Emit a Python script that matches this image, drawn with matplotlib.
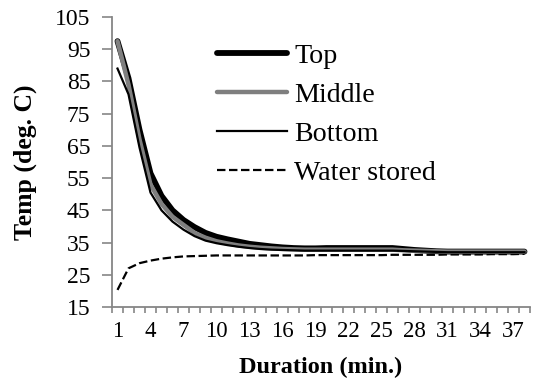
import matplotlib
matplotlib.use("Agg")
import matplotlib.pyplot as plt
import numpy as np

minutes = list(range(1, 39))
top = [97.5, 86, 70, 56.5, 49.5, 45, 42, 39.8, 38.0, 36.8, 36.0, 35.3, 34.6, 34.2, 33.8, 33.5,
       33.3, 33.2, 33.2, 33.3, 33.3, 33.3, 33.3, 33.3, 33.3, 33.3, 33.0, 32.7, 32.5, 32.3,
       32.2, 32.2, 32.2, 32.2, 32.2, 32.2, 32.2, 32.2]
middle = [97.5, 84, 67, 53, 47, 43, 40.5, 38.0, 36.5, 35.4, 34.7, 34.1, 33.7, 33.4, 33.2, 33.0,
          32.9, 32.8, 32.8, 32.8, 32.8, 32.8, 32.8, 32.8, 32.8, 32.8, 32.6, 32.5, 32.4, 32.3,
          32.2, 32.2, 32.2, 32.2, 32.2, 32.2, 32.2, 32.2]
bottom = [89, 81, 64.5, 50.5, 45, 41.5, 39.0, 37.0, 35.6, 34.8, 34.2, 33.7, 33.3, 33.0, 32.8, 32.7,
          32.6, 32.5, 32.5, 32.5, 32.5, 32.5, 32.5, 32.5, 32.5, 32.5, 32.4, 32.3, 32.2, 32.1,
          32.0, 32.0, 32.0, 32.0, 32.0, 32.0, 32.0, 32.0]
water = [20.3, 27.0, 28.6, 29.4, 30.0, 30.4, 30.7, 30.8, 30.9, 31.0, 31.0, 31.0, 31.0, 31.0, 31.0, 31.0,
         31.0, 31.0, 31.1, 31.1, 31.1, 31.1, 31.1, 31.1, 31.1, 31.2, 31.2, 31.2, 31.2, 31.2,
         31.3, 31.3, 31.3, 31.3, 31.4, 31.4, 31.4, 31.5]
series_names = ["Top", "Middle", "Bottom", "Water stored"]
yticks = list(range(15, 106, 10))
xtick_labels = list(range(1, 38, 3))

plt.rcParams['font.family'] = 'serif'
plt.rcParams['font.serif'] = ['Liberation Serif', 'DejaVu Serif']

fig = plt.figure(figsize=(5.34, 3.89), dpi=100)
ax = fig.add_axes([112/534, 1 - 307/389, (530 - 112)/534, (307 - 17)/389])

ax.plot(minutes, top, color='black', lw=4.2, solid_capstyle='round', label=series_names[0], zorder=3)
ax.plot(minutes, middle, color='#7f7f7f', lw=3.2, solid_capstyle='round', label=series_names[1], zorder=4)
ax.plot(minutes, bottom, color='black', lw=1.6, label=series_names[2], zorder=5)
ax.plot(minutes, water, color='black', lw=1.6, dashes=(3.8, 1.6), label=series_names[3], zorder=2)

ax.set_xlim(0.5, 38.5)
ax.set_ylim(15, 105)
ax.set_yticks(yticks)
ax.set_xticks(xtick_labels)
ax.set_xticks(np.arange(0.5, 39, 1.0), minor=True)

gray = '#868686'
for s in ['top', 'right']:
    ax.spines[s].set_visible(False)
for s in ['left', 'bottom']:
    ax.spines[s].set_color(gray)
    ax.spines[s].set_linewidth(1.3)

ax.tick_params(axis='y', which='major', direction='out', length=7, width=1.2, color=gray,
               labelsize=17, pad=8.5)
ax.tick_params(axis='x', which='major', length=0, labelsize=16.5, pad=10)
ax.tick_params(axis='x', which='minor', direction='out', length=4.3, width=1.2, color=gray)

ax.set_xlabel("Duration (min.)", fontsize=17.5, fontweight='bold', labelpad=11)
ax.set_ylabel("Temp (deg. C)", fontsize=18.5, fontweight='bold', labelpad=13)

leg = ax.legend(loc='upper left', bbox_to_anchor=(217/534, 1 - 43/389), bbox_transform=fig.transFigure,
                frameon=False, fontsize=20.2, handlelength=2.5, handletextpad=0.25,
                labelspacing=0.48, borderpad=0, borderaxespad=0)

fig.savefig("out.png", dpi=100)
